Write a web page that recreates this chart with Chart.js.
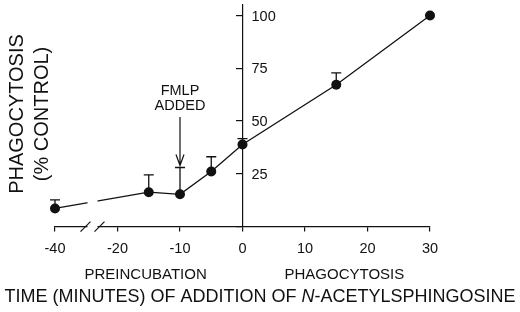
<!DOCTYPE html>
<html>
<head>
<meta charset="utf-8">
<script src="https://cdn.jsdelivr.net/npm/chart.js@4.4.1/dist/chart.umd.min.js"></script>
<style>
  html, body { margin: 0; padding: 0; background: #fff; }
</style>
</head>
<body>
<canvas id="chart" width="520" height="312"></canvas>
<script>
const TIMES = [-40, -15, -10, -5, 0, 15, 30];
const PHAGO = [8.6, 16.3, 15.3, 26.1, 38.9, 67.2, 100];
const ERR_UP = [4.1, 8.2, 12.7, 7, 2.8, 5.6, 0];
const X_TICKS = [-40, -20, -10, 0, 10, 20, 30];
const Y_TICKS = [0, 25, 50, 75, 100];
const PHASES = [['PREINCUBATION', -15.5], ['PHAGOCYTOSIS', 16.3]];
const Y_TITLE = ['PHAGOCYTOSIS', '(% CONTROL)'];
const MARKER = ['FMLP', 'ADDED'];
const MARKER_AT = -10;

const INK = '#111';
const FONT = "'Liberation Sans', Arial, sans-serif";

// broken axis: everything left of the break is pulled 10 min to the right
const toAxis = t => (t < -25 ? t + 10 : t);
const labelFor = v => {
  const t = X_TICKS.find(k => toAxis(k) === v);
  return t === undefined ? '' : String(t);
};

const errorBars = {
  id: 'errorBars',
  beforeDatasetsDraw(chart) {
    const { ctx, scales: { x, y } } = chart;
    ctx.save();
    ctx.strokeStyle = INK;
    ctx.lineWidth = 1.3;
    TIMES.forEach((t, i) => {
      if (!ERR_UP[i]) return;
      const px = x.getPixelForValue(toAxis(t));
      const p0 = y.getPixelForValue(PHAGO[i]);
      const p1 = y.getPixelForValue(PHAGO[i] + ERR_UP[i]);
      ctx.beginPath();
      ctx.moveTo(px, p0); ctx.lineTo(px, p1);
      ctx.moveTo(px - 5, p1); ctx.lineTo(px + 5, p1);
      ctx.stroke();
    });
    ctx.restore();
  }
};

const axisBreak = {
  id: 'axisBreak',
  afterDatasetsDraw(chart) {
    const { ctx, scales: { x, y } } = chart;
    const cx = x.getPixelForValue(-24);
    const base = y.getPixelForValue(0);
    ctx.save();
    ctx.fillStyle = '#fff';
    ctx.fillRect(cx - 5, base - 45, 10, 50);
    ctx.strokeStyle = INK;
    ctx.lineWidth = 1.2;
    ctx.beginPath();
    ctx.moveTo(cx - 12, base + 5); ctx.lineTo(cx - 2, base - 5);
    ctx.moveTo(cx + 2, base + 5); ctx.lineTo(cx + 12, base - 5);
    ctx.stroke();
    ctx.restore();
  }
};

const annotations = {
  id: 'annotations',
  afterDraw(chart) {
    const { ctx, scales: { x, y } } = chart;
    ctx.save();
    ctx.fillStyle = INK;
    ctx.strokeStyle = INK;

    // y tick labels sit to the right of the centred axis
    const ax = x.getPixelForValue(0);
    ctx.font = `14.5px ${FONT}`;
    ctx.textAlign = 'left';
    ctx.textBaseline = 'middle';
    Y_TICKS.filter(v => v > 0).forEach(v => ctx.fillText(String(v), ax + 9, y.getPixelForValue(v) + 1));

    // FMLP marker and arrow
    const mx = x.getPixelForValue(MARKER_AT);
    ctx.textAlign = 'center';
    ctx.fillText(MARKER[0], mx, 91);
    ctx.fillText(MARKER[1], mx, 106);
    const i = TIMES.indexOf(MARKER_AT);
    const tip = y.getPixelForValue(PHAGO[i] + ERR_UP[i]) - 2;
    ctx.lineWidth = 1.2;
    ctx.beginPath();
    ctx.moveTo(mx, 117); ctx.lineTo(mx, tip);
    ctx.moveTo(mx - 4, tip - 11); ctx.lineTo(mx, tip); ctx.lineTo(mx + 4, tip - 11);
    ctx.stroke();

    // phase labels
    ctx.font = `15px ${FONT}`;
    PHASES.forEach(([txt, at]) => ctx.fillText(txt, x.getPixelForValue(at), 275));

    // x title with italic N
    const parts = [['TIME (MINUTES) OF ADDITION OF ', ''], ['N', 'italic '], ['-ACETYLSPHINGOSINE', '']];
    let total = 0;
    parts.forEach(([s, st]) => { ctx.font = `${st}18px ${FONT}`; total += ctx.measureText(s).width; });
    let tx = 260 - total / 2;
    ctx.textAlign = 'left';
    parts.forEach(([s, st]) => {
      ctx.font = `${st}18px ${FONT}`;
      ctx.fillText(s, tx, 297);
      tx += ctx.measureText(s).width;
    });

    // y title
    ctx.font = `20px ${FONT}`;
    ctx.textAlign = 'center';
    ctx.translate(0, 114);
    ctx.rotate(-Math.PI / 2);
    ctx.fillText(Y_TITLE[0], 0, 17);
    ctx.fillText(Y_TITLE[1], 0, 42);
    ctx.restore();
  }
};

new Chart(document.getElementById('chart'), {
  type: 'scatter',
  data: {
    datasets: [{
      data: TIMES.map((t, i) => ({ x: toAxis(t), y: PHAGO[i] })),
      showLine: true,
      tension: 0,
      borderColor: INK,
      borderWidth: 1.3,
      pointRadius: 5,
      pointBorderWidth: 0,
      pointBackgroundColor: INK,
      clip: false,
    }],
  },
  options: {
    responsive: false,
    animation: false,
    layout: { padding: { left: 55, right: 90, top: 0, bottom: 45 } },
    plugins: { legend: { display: false }, tooltip: { enabled: false } },
    scales: {
      x: {
        type: 'linear', min: -30, max: 30, position: 'bottom',
        afterBuildTicks: s => { s.ticks = X_TICKS.map(t => ({ value: toAxis(t) })); },
        grid: { drawOnChartArea: false, tickLength: 5, color: INK, lineWidth: 1.2 },
        border: { color: INK, width: 1.2 },
        ticks: { color: INK, font: { family: FONT, size: 14.5 }, padding: 9, maxRotation: 0, autoSkip: false, callback: v => labelFor(v) },
      },
      y: {
        type: 'linear', min: 0, max: 105, position: { x: 0 },
        afterBuildTicks: s => { s.ticks = Y_TICKS.map(v => ({ value: v })); },
        grid: { drawOnChartArea: false, tickLength: 6, color: INK, lineWidth: 1.2 },
        border: { color: INK, width: 1.2 },
        ticks: { display: false },
      },
    },
  },
  plugins: [errorBars, axisBreak, annotations],
});
</script>
</body>
</html>
